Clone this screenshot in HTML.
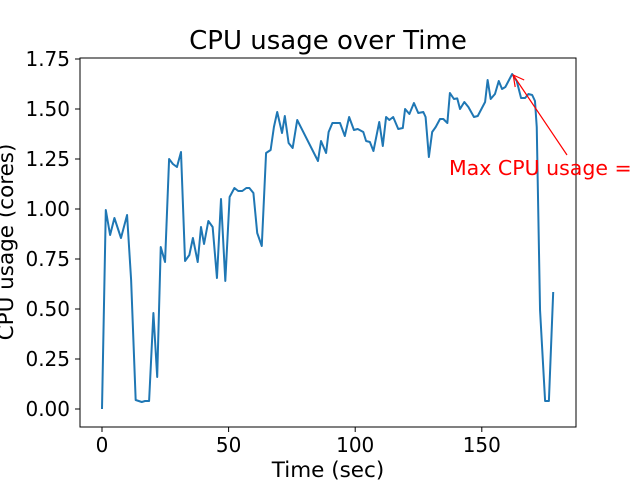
<!DOCTYPE html>
<html><head><meta charset="utf-8"><style>
body{margin:0;background:#fff}
svg{display:block;font-family:"DejaVu Sans","Liberation Sans",sans-serif}
</style></head><body>
<svg id="chart" width="640" height="480" viewBox="0 0 640 480">
<rect x="0" y="0" width="640" height="480" fill="#fff"/>
<text x="328" y="49" font-size="26" text-anchor="middle">CPU usage over Time</text>
<g id="plot"></g>
<text x="328" y="477" font-size="21.5" text-anchor="middle">Time (sec)</text>
<text transform="translate(13,242) rotate(-90)" font-size="21.5" text-anchor="middle">CPU usage (cores)</text>
</svg>
<script>
const xs=[0,1.5,3.2,4.9,7.5,9.9,11.5,13.3,15.7,17,18.6,20.3,21.8,23.2,24.9,26.5,28,29.6,31.2,32.8,34.5,35.9,37.8,39.1,40.3,42,43.7,45.4,47,48.7,50.4,52.3,53.8,55.4,57,58.2,59.8,61.3,63.1,64.8,66.6,67.9,69.2,71.1,72.2,73.7,75.3,77.1,85.3,86.5,88.5,89.5,91,94,95.9,97.6,99.5,101,103.2,104.3,105.8,107.2,109.5,110.9,112.2,113.5,115,117,118.8,119.7,121.4,123.2,124.9,126.9,127.8,129.1,130.4,131.8,133.5,134.8,136.4,137.4,139,140.3,141.4,143.1,144.7,146.9,148.4,151.3,152.3,153.5,155.2,156.7,158,159.3,162,163.8,165.5,167.1,168.4,169.9,171,171.7,173,175,176.5,178.2];
const ys=[0,0.995,0.87,0.955,0.855,0.97,0.645,0.045,0.035,0.04,0.04,0.48,0.16,0.81,0.735,1.25,1.225,1.21,1.285,0.74,0.77,0.855,0.735,0.91,0.825,0.94,0.91,0.655,1.05,0.64,1.06,1.105,1.09,1.09,1.105,1.105,1.08,0.88,0.815,1.28,1.295,1.41,1.485,1.38,1.465,1.33,1.305,1.445,1.24,1.34,1.28,1.385,1.43,1.43,1.365,1.46,1.395,1.4,1.385,1.34,1.335,1.29,1.435,1.315,1.46,1.445,1.46,1.40,1.405,1.50,1.475,1.53,1.48,1.485,1.46,1.26,1.385,1.41,1.45,1.45,1.43,1.58,1.55,1.553,1.50,1.535,1.51,1.46,1.465,1.535,1.645,1.55,1.575,1.64,1.60,1.61,1.675,1.64,1.555,1.555,1.575,1.57,1.54,1.41,0.495,0.04,0.04,0.585];
const xTicks=[0,50,100,150];
const yTicks=[0,0.25,0.5,0.75,1.0,1.25,1.5,1.75];
const L=80,R=576,T=58,B=427;
const sx=v=>102+v*2.532, sy=v=>409-v*200;
const NS="http://www.w3.org/2000/svg";
const g=document.getElementById('plot');
function mk(t,a){const e=document.createElementNS(NS,t);for(const k in a)e.setAttribute(k,a[k]);g.appendChild(e);return e;}
xTicks.forEach(v=>{
 const t=mk('line',{x1:sx(v),x2:sx(v),y1:B,y2:B+5,stroke:'#000','stroke-width':1});
 
 
 const l=mk('text',{x:sx(v),y:452,'font-size':20,'text-anchor':'middle'});l.textContent=v;
 
 
});
yTicks.forEach(v=>{
 const t=mk('line',{x1:L-5,x2:L,y1:sy(v),y2:sy(v),stroke:'#000','stroke-width':1});
 
 
 const l=mk('text',{x:L-10,y:sy(v)+7,'font-size':20,'text-anchor':'end'});l.textContent=v.toFixed(2);
 
 
});
const line=mk('polyline',{points:xs.map((x,i)=>sx(x)+','+sy(ys[i])).join(' '),fill:'none',stroke:'#1f77b4','stroke-width':2,'stroke-linejoin':'round'});


const fr=mk('rect',{x:L,y:T,width:R-L,height:B-T,fill:'none',stroke:'#000','stroke-width':1});


let mi=0;ys.forEach((v,i)=>{if(v>ys[mi])mi=i;});
const px=sx(xs[mi]),py=sy(ys[mi]);
const ar=mk('line',{x1:567,y1:155,x2:px+1,y2:py+1,stroke:'red','stroke-width':1.2});


const ah=mk('polyline',{points:(px+12)+','+(py+6)+' '+(px+1)+','+(py+1)+' '+(px+3)+','+(py+13),fill:'none',stroke:'red','stroke-width':1.2});


const at=mk('text',{x:449,y:175,'font-size':20.5,fill:'red'});at.textContent='Max CPU usage = '+ys[mi].toFixed(2);


</script>
</body></html>
